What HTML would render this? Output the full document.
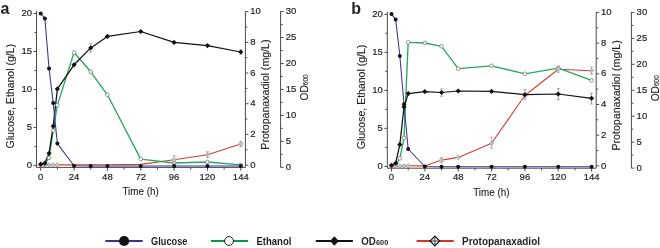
<!DOCTYPE html>
<html><head><meta charset="utf-8"><title>Figure</title>
<style>
html,body{margin:0;padding:0;background:#fff;width:660px;height:248px;overflow:hidden;}
svg{display:block;will-change:transform;}
text{font-family:"Liberation Sans",sans-serif;}
</style></head>
<body>
<svg width="660" height="248" viewBox="0 0 660 248" font-family="Liberation Sans, sans-serif">
<rect width="660" height="248" fill="#fff"/>
<text x="0.6" y="13.8" font-size="16" font-weight="bold" fill="#231f20">a</text>
<text x="351.2" y="13.7" font-size="16" font-weight="bold" fill="#231f20">b</text>
<g><path d="M36.5 11.1V167.4H245.4M245.4 11.1V167.4M280.6 11.1V167.4" fill="none" stroke="#4a4a4a" stroke-width="1"/>
<path d="M33.5 165.6H36.5M33.5 127.57H36.5M33.5 89.55H36.5M33.5 51.52H36.5M33.5 13.5H36.5M34.5 146.59H36.5M34.5 108.56H36.5M34.5 70.54H36.5M34.5 32.51H36.5M40.7 167.4V170.7M74.05 167.4V170.7M107.4 167.4V170.7M140.75 167.4V170.7M174.1 167.4V170.7M207.45 167.4V170.7M240.8 167.4V170.7M57.38 167.4V169.6M90.73 167.4V169.6M124.08 167.4V169.6M157.43 167.4V169.6M190.78 167.4V169.6M224.13 167.4V169.6M245.4 165.1H248.4M245.4 134.4H248.4M245.4 103.7H248.4M245.4 73H248.4M245.4 42.3H248.4M245.4 11.6H248.4M245.4 149.75H247.4M245.4 119.05H247.4M245.4 88.35H247.4M245.4 57.65H247.4M245.4 26.95H247.4M280.6 167.3H283.6M280.6 141.35H283.6M280.6 115.4H283.6M280.6 89.45H283.6M280.6 63.5H283.6M280.6 37.55H283.6M280.6 11.6H283.6M280.6 154.33H282.6M280.6 128.38H282.6M280.6 102.43H282.6M280.6 76.48H282.6M280.6 50.53H282.6M280.6 24.57H282.6" fill="none" stroke="#4a4a4a" stroke-width="1"/>
<g font-size="9.5" fill="#231f20" stroke="#231f20" stroke-width="0.2"><text x="32" y="168" text-anchor="end">0</text><text x="32" y="129.97" text-anchor="end">5</text><text x="32" y="91.95" text-anchor="end">10</text><text x="32" y="53.92" text-anchor="end">15</text><text x="32" y="15.9" text-anchor="end">20</text><text x="40.7" y="179.6" text-anchor="middle">0</text><text x="74.05" y="179.6" text-anchor="middle">24</text><text x="107.4" y="179.6" text-anchor="middle">48</text><text x="140.75" y="179.6" text-anchor="middle">72</text><text x="174.1" y="179.6" text-anchor="middle">96</text><text x="207.45" y="179.6" text-anchor="middle">120</text><text x="240.8" y="179.6" text-anchor="middle">144</text><text x="250.2" y="167.75">0</text><text x="250.2" y="137.05">2</text><text x="250.2" y="106.35">4</text><text x="250.2" y="75.65">6</text><text x="250.2" y="44.95">8</text><text x="250.2" y="14.25">10</text><text x="285.8" y="169.95">0</text><text x="285.8" y="144">5</text><text x="285.8" y="118.05">10</text><text x="285.8" y="92.1">15</text><text x="285.8" y="66.15">20</text><text x="285.8" y="40.2">25</text><text x="285.8" y="14.25">30</text></g>
<g font-size="10.2" fill="#231f20" stroke="#231f20" stroke-width="0.12"><text x="140.55" y="195.3" text-anchor="middle" textLength="36.3" lengthAdjust="spacingAndGlyphs">Time (h)</text><text transform="translate(13.8 96.2) rotate(-90)" text-anchor="middle" textLength="104.5" lengthAdjust="spacingAndGlyphs">Glucose, Ethanol (g/L)</text><text transform="translate(268.8 94.6) rotate(-90)" text-anchor="middle" textLength="110.2" lengthAdjust="spacingAndGlyphs">Protopanaxadiol (mg/L)</text><text transform="translate(308.3 100.5) rotate(-90)">OD<tspan font-size="6.5">600</tspan></text></g></g>
<g transform="translate(350.8 0.8)"><path d="M36.5 11.1V167.4H245.4M245.4 11.1V167.4M280.6 11.1V167.4" fill="none" stroke="#4a4a4a" stroke-width="1"/>
<path d="M33.5 165.6H36.5M33.5 127.57H36.5M33.5 89.55H36.5M33.5 51.52H36.5M33.5 13.5H36.5M34.5 146.59H36.5M34.5 108.56H36.5M34.5 70.54H36.5M34.5 32.51H36.5M40.7 167.4V170.7M74.05 167.4V170.7M107.4 167.4V170.7M140.75 167.4V170.7M174.1 167.4V170.7M207.45 167.4V170.7M240.8 167.4V170.7M57.38 167.4V169.6M90.73 167.4V169.6M124.08 167.4V169.6M157.43 167.4V169.6M190.78 167.4V169.6M224.13 167.4V169.6M245.4 165.1H248.4M245.4 134.4H248.4M245.4 103.7H248.4M245.4 73H248.4M245.4 42.3H248.4M245.4 11.6H248.4M245.4 149.75H247.4M245.4 119.05H247.4M245.4 88.35H247.4M245.4 57.65H247.4M245.4 26.95H247.4M280.6 167.3H283.6M280.6 141.35H283.6M280.6 115.4H283.6M280.6 89.45H283.6M280.6 63.5H283.6M280.6 37.55H283.6M280.6 11.6H283.6M280.6 154.33H282.6M280.6 128.38H282.6M280.6 102.43H282.6M280.6 76.48H282.6M280.6 50.53H282.6M280.6 24.57H282.6" fill="none" stroke="#4a4a4a" stroke-width="1"/>
<g font-size="9.5" fill="#231f20" stroke="#231f20" stroke-width="0.2"><text x="32" y="168" text-anchor="end">0</text><text x="32" y="129.97" text-anchor="end">5</text><text x="32" y="91.95" text-anchor="end">10</text><text x="32" y="53.92" text-anchor="end">15</text><text x="32" y="15.9" text-anchor="end">20</text><text x="40.7" y="179.6" text-anchor="middle">0</text><text x="74.05" y="179.6" text-anchor="middle">24</text><text x="107.4" y="179.6" text-anchor="middle">48</text><text x="140.75" y="179.6" text-anchor="middle">72</text><text x="174.1" y="179.6" text-anchor="middle">96</text><text x="207.45" y="179.6" text-anchor="middle">120</text><text x="240.8" y="179.6" text-anchor="middle">144</text><text x="250.2" y="167.75">0</text><text x="250.2" y="137.05">2</text><text x="250.2" y="106.35">4</text><text x="250.2" y="75.65">6</text><text x="250.2" y="44.95">8</text><text x="250.2" y="14.25">10</text><text x="285.8" y="169.95">0</text><text x="285.8" y="144">5</text><text x="285.8" y="118.05">10</text><text x="285.8" y="92.1">15</text><text x="285.8" y="66.15">20</text><text x="285.8" y="40.2">25</text><text x="285.8" y="14.25">30</text></g>
<g font-size="10.2" fill="#231f20" stroke="#231f20" stroke-width="0.12"><text x="140.55" y="195.3" text-anchor="middle" textLength="36.3" lengthAdjust="spacingAndGlyphs">Time (h)</text><text transform="translate(13.8 96.2) rotate(-90)" text-anchor="middle" textLength="104.5" lengthAdjust="spacingAndGlyphs">Glucose, Ethanol (g/L)</text><text transform="translate(268.8 94.6) rotate(-90)" text-anchor="middle" textLength="110.2" lengthAdjust="spacingAndGlyphs">Protopanaxadiol (mg/L)</text><text transform="translate(308.3 100.5) rotate(-90)">OD<tspan font-size="6.5">600</tspan></text></g></g>
<path d="M40.7 164.9 L44.87 164.9 L49.04 164.9 L53.21 164.9 L57.38 164.9 L74.05 164.9 L90.73 164.8 L107.4 164.7 L140.75 164.4 L174.1 159.8 L207.45 154.8 L240.8 143.9" fill="none" stroke="#d0402f" stroke-width="1.1" stroke-linejoin="round"/>
<path d="M40.7 165 L44.87 164.6 L49.04 157.8 L53.21 130.5 L57.38 105.1 L74.05 52.5 L90.73 71.8 L107.4 94.8 L140.75 159.1 L174.1 163 L207.45 162 L240.8 164.9" fill="none" stroke="#2aa863" stroke-width="1.35" stroke-linejoin="round"/>
<path d="M40.7 164.2 L44.87 163.2 L49.04 153.3 L53.21 126.2 L57.38 88.9 L74.05 64.8 L90.73 47.9 L107.4 36.4 L140.75 31.5 L174.1 42.4 L207.45 45.6 L240.8 52" fill="none" stroke="#111111" stroke-width="1.25" stroke-linejoin="round"/>
<path d="M40.7 13.5 L44.87 18.4 L49.04 68.4 L53.21 102.9 L57.38 143.6 L74.05 165.7 L90.73 165.9 L107.4 166 L140.75 166 L174.1 166 L207.45 166 L240.8 166" fill="none" stroke="#3b3393" stroke-width="1.05" stroke-linejoin="round"/>
<path d="M90.7 43.6V52.2M89.1 43.6H92.3M89.1 52.2H92.3M240.8 49.8V54.2M239.2 49.8H242.4M239.2 54.2H242.4" fill="none" stroke="#888" stroke-width="0.7"/>
<circle cx="40.7" cy="165" r="1.85" fill="#fff" stroke="#6a6a6a" stroke-width="0.7"/><circle cx="44.87" cy="164.6" r="1.85" fill="#fff" stroke="#6a6a6a" stroke-width="0.7"/><circle cx="49.04" cy="157.8" r="1.85" fill="#fff" stroke="#6a6a6a" stroke-width="0.7"/><circle cx="53.21" cy="130.5" r="1.85" fill="#fff" stroke="#6a6a6a" stroke-width="0.7"/><circle cx="57.38" cy="105.1" r="1.85" fill="#fff" stroke="#6a6a6a" stroke-width="0.7"/><circle cx="74.05" cy="52.5" r="1.85" fill="#fff" stroke="#6a6a6a" stroke-width="0.7"/><circle cx="90.73" cy="71.8" r="1.85" fill="#fff" stroke="#6a6a6a" stroke-width="0.7"/><circle cx="107.4" cy="94.8" r="1.85" fill="#fff" stroke="#6a6a6a" stroke-width="0.7"/><circle cx="140.75" cy="159.1" r="1.85" fill="#fff" stroke="#6a6a6a" stroke-width="0.7"/><circle cx="174.1" cy="163" r="1.85" fill="#fff" stroke="#6a6a6a" stroke-width="0.7"/><circle cx="207.45" cy="162" r="1.85" fill="#fff" stroke="#6a6a6a" stroke-width="0.7"/><circle cx="240.8" cy="164.9" r="1.85" fill="#fff" stroke="#6a6a6a" stroke-width="0.7"/>
<path d="M174.1 155.6V164M172.5 155.6H175.7M172.5 164H175.7M207.45 151.8V157.8M205.85 151.8H209.05M205.85 157.8H209.05M240.8 141.3V146.8M239.2 141.3H242.4M239.2 146.8H242.4" fill="none" stroke="#999" stroke-width="0.7"/>
<path d="M40.7 162.7L42.9 164.9L40.7 167.1L38.5 164.9Z" fill="#fff" stroke="#8e8e8e" stroke-width="0.7"/><path d="M38.5 164.9H42.9M40.7 162.7V167.1" stroke="#8e8e8e" stroke-width="0.6"/><path d="M44.87 162.7L47.07 164.9L44.87 167.1L42.67 164.9Z" fill="#fff" stroke="#8e8e8e" stroke-width="0.7"/><path d="M42.67 164.9H47.07M44.87 162.7V167.1" stroke="#8e8e8e" stroke-width="0.6"/><path d="M49.04 162.7L51.24 164.9L49.04 167.1L46.84 164.9Z" fill="#fff" stroke="#8e8e8e" stroke-width="0.7"/><path d="M46.84 164.9H51.24M49.04 162.7V167.1" stroke="#8e8e8e" stroke-width="0.6"/><path d="M53.21 162.7L55.41 164.9L53.21 167.1L51.01 164.9Z" fill="#fff" stroke="#8e8e8e" stroke-width="0.7"/><path d="M51.01 164.9H55.41M53.21 162.7V167.1" stroke="#8e8e8e" stroke-width="0.6"/><path d="M57.38 162.7L59.58 164.9L57.38 167.1L55.18 164.9Z" fill="#fff" stroke="#8e8e8e" stroke-width="0.7"/><path d="M55.18 164.9H59.58M57.38 162.7V167.1" stroke="#8e8e8e" stroke-width="0.6"/><path d="M174.1 157.6L176.3 159.8L174.1 162L171.9 159.8Z" fill="#fff" stroke="#8e8e8e" stroke-width="0.7"/><path d="M171.9 159.8H176.3M174.1 157.6V162" stroke="#8e8e8e" stroke-width="0.6"/><path d="M207.45 152.6L209.65 154.8L207.45 157L205.25 154.8Z" fill="#fff" stroke="#8e8e8e" stroke-width="0.7"/><path d="M205.25 154.8H209.65M207.45 152.6V157" stroke="#8e8e8e" stroke-width="0.6"/><path d="M240.8 141.7L243 143.9L240.8 146.1L238.6 143.9Z" fill="#fff" stroke="#8e8e8e" stroke-width="0.7"/><path d="M238.6 143.9H243M240.8 141.7V146.1" stroke="#8e8e8e" stroke-width="0.6"/>
<path d="M40.7 161.6L43.3 164.2L40.7 166.8L38.1 164.2ZM44.87 160.6L47.47 163.2L44.87 165.8L42.27 163.2ZM49.04 150.7L51.64 153.3L49.04 155.9L46.44 153.3ZM53.21 123.6L55.81 126.2L53.21 128.8L50.61 126.2ZM57.38 86.3L59.98 88.9L57.38 91.5L54.78 88.9ZM74.05 62.2L76.65 64.8L74.05 67.4L71.45 64.8ZM90.73 45.3L93.33 47.9L90.73 50.5L88.13 47.9ZM107.4 33.8L110 36.4L107.4 39L104.8 36.4ZM140.75 28.9L143.35 31.5L140.75 34.1L138.15 31.5ZM174.1 39.8L176.7 42.4L174.1 45L171.5 42.4ZM207.45 43L210.05 45.6L207.45 48.2L204.85 45.6ZM240.8 49.4L243.4 52L240.8 54.6L238.2 52Z" fill="#111111"/>
<circle cx="40.7" cy="13.5" r="2.0" fill="#111111"/><circle cx="44.87" cy="18.4" r="2.0" fill="#111111"/><circle cx="49.04" cy="68.4" r="2.0" fill="#111111"/><circle cx="53.21" cy="102.9" r="2.0" fill="#111111"/><circle cx="57.38" cy="143.6" r="2.0" fill="#111111"/><circle cx="74.05" cy="165.7" r="2.0" fill="#111111"/><circle cx="90.73" cy="165.9" r="2.0" fill="#111111"/><circle cx="107.4" cy="166" r="2.0" fill="#111111"/><circle cx="140.75" cy="166" r="2.0" fill="#111111"/><circle cx="174.1" cy="166" r="2.0" fill="#111111"/><circle cx="207.45" cy="166" r="2.0" fill="#111111"/><circle cx="240.8" cy="166" r="2.0" fill="#111111"/>
<path d="M391.5 165.8 L395.67 165.8 L399.84 165.8 L404.01 165.8 L408.18 165.8 L424.85 165.9 L441.53 160.1 L458.2 157.4 L491.55 143.2 L524.9 95.5 L558.25 69.3 L591.6 70.7" fill="none" stroke="#d0402f" stroke-width="1.1" stroke-linejoin="round"/>
<path d="M391.5 166 L395.67 165.6 L399.84 158.3 L404.01 138 L408.18 42.3 L424.85 43 L441.53 46.3 L458.2 68.7 L491.55 65.8 L524.9 73.8 L558.25 68.1 L591.6 80.4" fill="none" stroke="#2aa863" stroke-width="1.35" stroke-linejoin="round"/>
<path d="M391.5 165.3 L395.67 163.2 L399.84 144.6 L404.01 107 L408.18 93.6 L424.85 91.6 L441.53 92.5 L458.2 91 L491.55 91.4 L524.9 94.7 L558.25 94 L591.6 98.3" fill="none" stroke="#111111" stroke-width="1.25" stroke-linejoin="round"/>
<path d="M391.5 14.1 L395.67 19.4 L399.84 56 L404.01 104.3 L408.18 149 L424.85 166.5 L441.53 166.7 L458.2 166.8 L491.55 166.8 L524.9 166.8 L558.25 166.8 L591.6 166.8" fill="none" stroke="#3b3393" stroke-width="1.05" stroke-linejoin="round"/>
<path d="M441.6 89V96.2M440 89H443.2M440 96.2H443.2M525 89.6V99.2M523.4 89.6H526.6M523.4 99.2H526.6M558.3 88.6V99.7M556.7 88.6H559.9M556.7 99.7H559.9M591.5 93.3V104M589.9 93.3H593.1M589.9 104H593.1" fill="none" stroke="#888" stroke-width="0.7"/>
<circle cx="391.5" cy="166" r="1.85" fill="#fff" stroke="#6a6a6a" stroke-width="0.7"/><circle cx="395.67" cy="165.6" r="1.85" fill="#fff" stroke="#6a6a6a" stroke-width="0.7"/><circle cx="399.84" cy="158.3" r="1.85" fill="#fff" stroke="#6a6a6a" stroke-width="0.7"/><circle cx="404.01" cy="138" r="1.85" fill="#fff" stroke="#6a6a6a" stroke-width="0.7"/><circle cx="408.18" cy="42.3" r="1.85" fill="#fff" stroke="#6a6a6a" stroke-width="0.7"/><circle cx="424.85" cy="43" r="1.85" fill="#fff" stroke="#6a6a6a" stroke-width="0.7"/><circle cx="441.53" cy="46.3" r="1.85" fill="#fff" stroke="#6a6a6a" stroke-width="0.7"/><circle cx="458.2" cy="68.7" r="1.85" fill="#fff" stroke="#6a6a6a" stroke-width="0.7"/><circle cx="491.55" cy="65.8" r="1.85" fill="#fff" stroke="#6a6a6a" stroke-width="0.7"/><circle cx="524.9" cy="73.8" r="1.85" fill="#fff" stroke="#6a6a6a" stroke-width="0.7"/><circle cx="558.25" cy="68.1" r="1.85" fill="#fff" stroke="#6a6a6a" stroke-width="0.7"/><circle cx="591.6" cy="80.4" r="1.85" fill="#fff" stroke="#6a6a6a" stroke-width="0.7"/>
<path d="M441.4 157.6V162.6M439.8 157.6H443M439.8 162.6H443M491.6 137.2V148.4M490 137.2H493.2M490 148.4H493.2M558.1 66.1V72.4M556.5 66.1H559.7M556.5 72.4H559.7M591.6 67V74.3M590 67H593.2M590 74.3H593.2" fill="none" stroke="#999" stroke-width="0.7"/>
<path d="M391.5 163.6L393.7 165.8L391.5 168L389.3 165.8Z" fill="#fff" stroke="#8e8e8e" stroke-width="0.7"/><path d="M389.3 165.8H393.7M391.5 163.6V168" stroke="#8e8e8e" stroke-width="0.6"/><path d="M395.67 163.6L397.87 165.8L395.67 168L393.47 165.8Z" fill="#fff" stroke="#8e8e8e" stroke-width="0.7"/><path d="M393.47 165.8H397.87M395.67 163.6V168" stroke="#8e8e8e" stroke-width="0.6"/><path d="M399.84 163.6L402.04 165.8L399.84 168L397.64 165.8Z" fill="#fff" stroke="#8e8e8e" stroke-width="0.7"/><path d="M397.64 165.8H402.04M399.84 163.6V168" stroke="#8e8e8e" stroke-width="0.6"/><path d="M404.01 163.6L406.21 165.8L404.01 168L401.81 165.8Z" fill="#fff" stroke="#8e8e8e" stroke-width="0.7"/><path d="M401.81 165.8H406.21M404.01 163.6V168" stroke="#8e8e8e" stroke-width="0.6"/><path d="M408.18 163.6L410.38 165.8L408.18 168L405.98 165.8Z" fill="#fff" stroke="#8e8e8e" stroke-width="0.7"/><path d="M405.98 165.8H410.38M408.18 163.6V168" stroke="#8e8e8e" stroke-width="0.6"/><path d="M441.53 157.9L443.73 160.1L441.53 162.3L439.33 160.1Z" fill="#fff" stroke="#8e8e8e" stroke-width="0.7"/><path d="M439.33 160.1H443.73M441.53 157.9V162.3" stroke="#8e8e8e" stroke-width="0.6"/><path d="M458.2 155.2L460.4 157.4L458.2 159.6L456 157.4Z" fill="#fff" stroke="#8e8e8e" stroke-width="0.7"/><path d="M456 157.4H460.4M458.2 155.2V159.6" stroke="#8e8e8e" stroke-width="0.6"/><path d="M491.55 141L493.75 143.2L491.55 145.4L489.35 143.2Z" fill="#fff" stroke="#8e8e8e" stroke-width="0.7"/><path d="M489.35 143.2H493.75M491.55 141V145.4" stroke="#8e8e8e" stroke-width="0.6"/><path d="M524.9 93.3L527.1 95.5L524.9 97.7L522.7 95.5Z" fill="#fff" stroke="#8e8e8e" stroke-width="0.7"/><path d="M522.7 95.5H527.1M524.9 93.3V97.7" stroke="#8e8e8e" stroke-width="0.6"/><path d="M558.25 67.1L560.45 69.3L558.25 71.5L556.05 69.3Z" fill="#fff" stroke="#8e8e8e" stroke-width="0.7"/><path d="M556.05 69.3H560.45M558.25 67.1V71.5" stroke="#8e8e8e" stroke-width="0.6"/><path d="M591.6 68.5L593.8 70.7L591.6 72.9L589.4 70.7Z" fill="#fff" stroke="#8e8e8e" stroke-width="0.7"/><path d="M589.4 70.7H593.8M591.6 68.5V72.9" stroke="#8e8e8e" stroke-width="0.6"/>
<path d="M391.5 162.7L394.1 165.3L391.5 167.9L388.9 165.3ZM395.67 160.6L398.27 163.2L395.67 165.8L393.07 163.2ZM399.84 142L402.44 144.6L399.84 147.2L397.24 144.6ZM404.01 104.4L406.61 107L404.01 109.6L401.41 107ZM408.18 91L410.78 93.6L408.18 96.2L405.58 93.6ZM424.85 89L427.45 91.6L424.85 94.2L422.25 91.6ZM441.53 89.9L444.13 92.5L441.53 95.1L438.93 92.5ZM458.2 88.4L460.8 91L458.2 93.6L455.6 91ZM491.55 88.8L494.15 91.4L491.55 94L488.95 91.4ZM524.9 92.1L527.5 94.7L524.9 97.3L522.3 94.7ZM558.25 91.4L560.85 94L558.25 96.6L555.65 94ZM591.6 95.7L594.2 98.3L591.6 100.9L589 98.3Z" fill="#111111"/>
<circle cx="391.5" cy="14.1" r="2.0" fill="#111111"/><circle cx="395.67" cy="19.4" r="2.0" fill="#111111"/><circle cx="399.84" cy="56" r="2.0" fill="#111111"/><circle cx="404.01" cy="104.3" r="2.0" fill="#111111"/><circle cx="408.18" cy="149" r="2.0" fill="#111111"/><circle cx="424.85" cy="166.5" r="2.0" fill="#111111"/><circle cx="441.53" cy="166.7" r="2.0" fill="#111111"/><circle cx="458.2" cy="166.8" r="2.0" fill="#111111"/><circle cx="491.55" cy="166.8" r="2.0" fill="#111111"/><circle cx="524.9" cy="166.8" r="2.0" fill="#111111"/><circle cx="558.25" cy="166.8" r="2.0" fill="#111111"/><circle cx="591.6" cy="166.8" r="2.0" fill="#111111"/>
<path d="M105.3 241H142.7" stroke="#3b3393" stroke-width="2"/><circle cx="124.1" cy="241" r="5.1" fill="#111111"/>
<path d="M211 241H248.1" stroke="#0f973f" stroke-width="2"/><circle cx="229" cy="241" r="4.4" fill="#fff" stroke="#222" stroke-width="1"/>
<path d="M315.8 241H352.9" stroke="#111111" stroke-width="2"/><path d="M334.4 236.2L338.8 241L334.4 245.8L330 241Z" fill="#111111"/>
<path d="M416.6 241H453.7" stroke="#d4352a" stroke-width="2"/><path d="M434.9 236.2L439.7 241L434.9 245.8L430.1 241Z" fill="#fff" stroke="#111" stroke-width="1.2"/><path d="M431 241H438.8M434.9 237.2V244.8" stroke="#222" stroke-width="0.9"/>
<g font-size="10" font-weight="bold" fill="#231f20"><text x="151.1" y="244.7" textLength="36.3" lengthAdjust="spacingAndGlyphs">Glucose</text><text x="256.4" y="244.7" textLength="35" lengthAdjust="spacingAndGlyphs">Ethanol</text><text x="361.2" y="244.7" textLength="14.5" lengthAdjust="spacingAndGlyphs">OD</text><text x="376" y="244.9" font-size="7.6" font-weight="bold" textLength="12.3" lengthAdjust="spacingAndGlyphs">600</text><text x="462" y="244.7" textLength="78" lengthAdjust="spacingAndGlyphs">Protopanaxadiol</text></g>
</svg>
</body></html>
